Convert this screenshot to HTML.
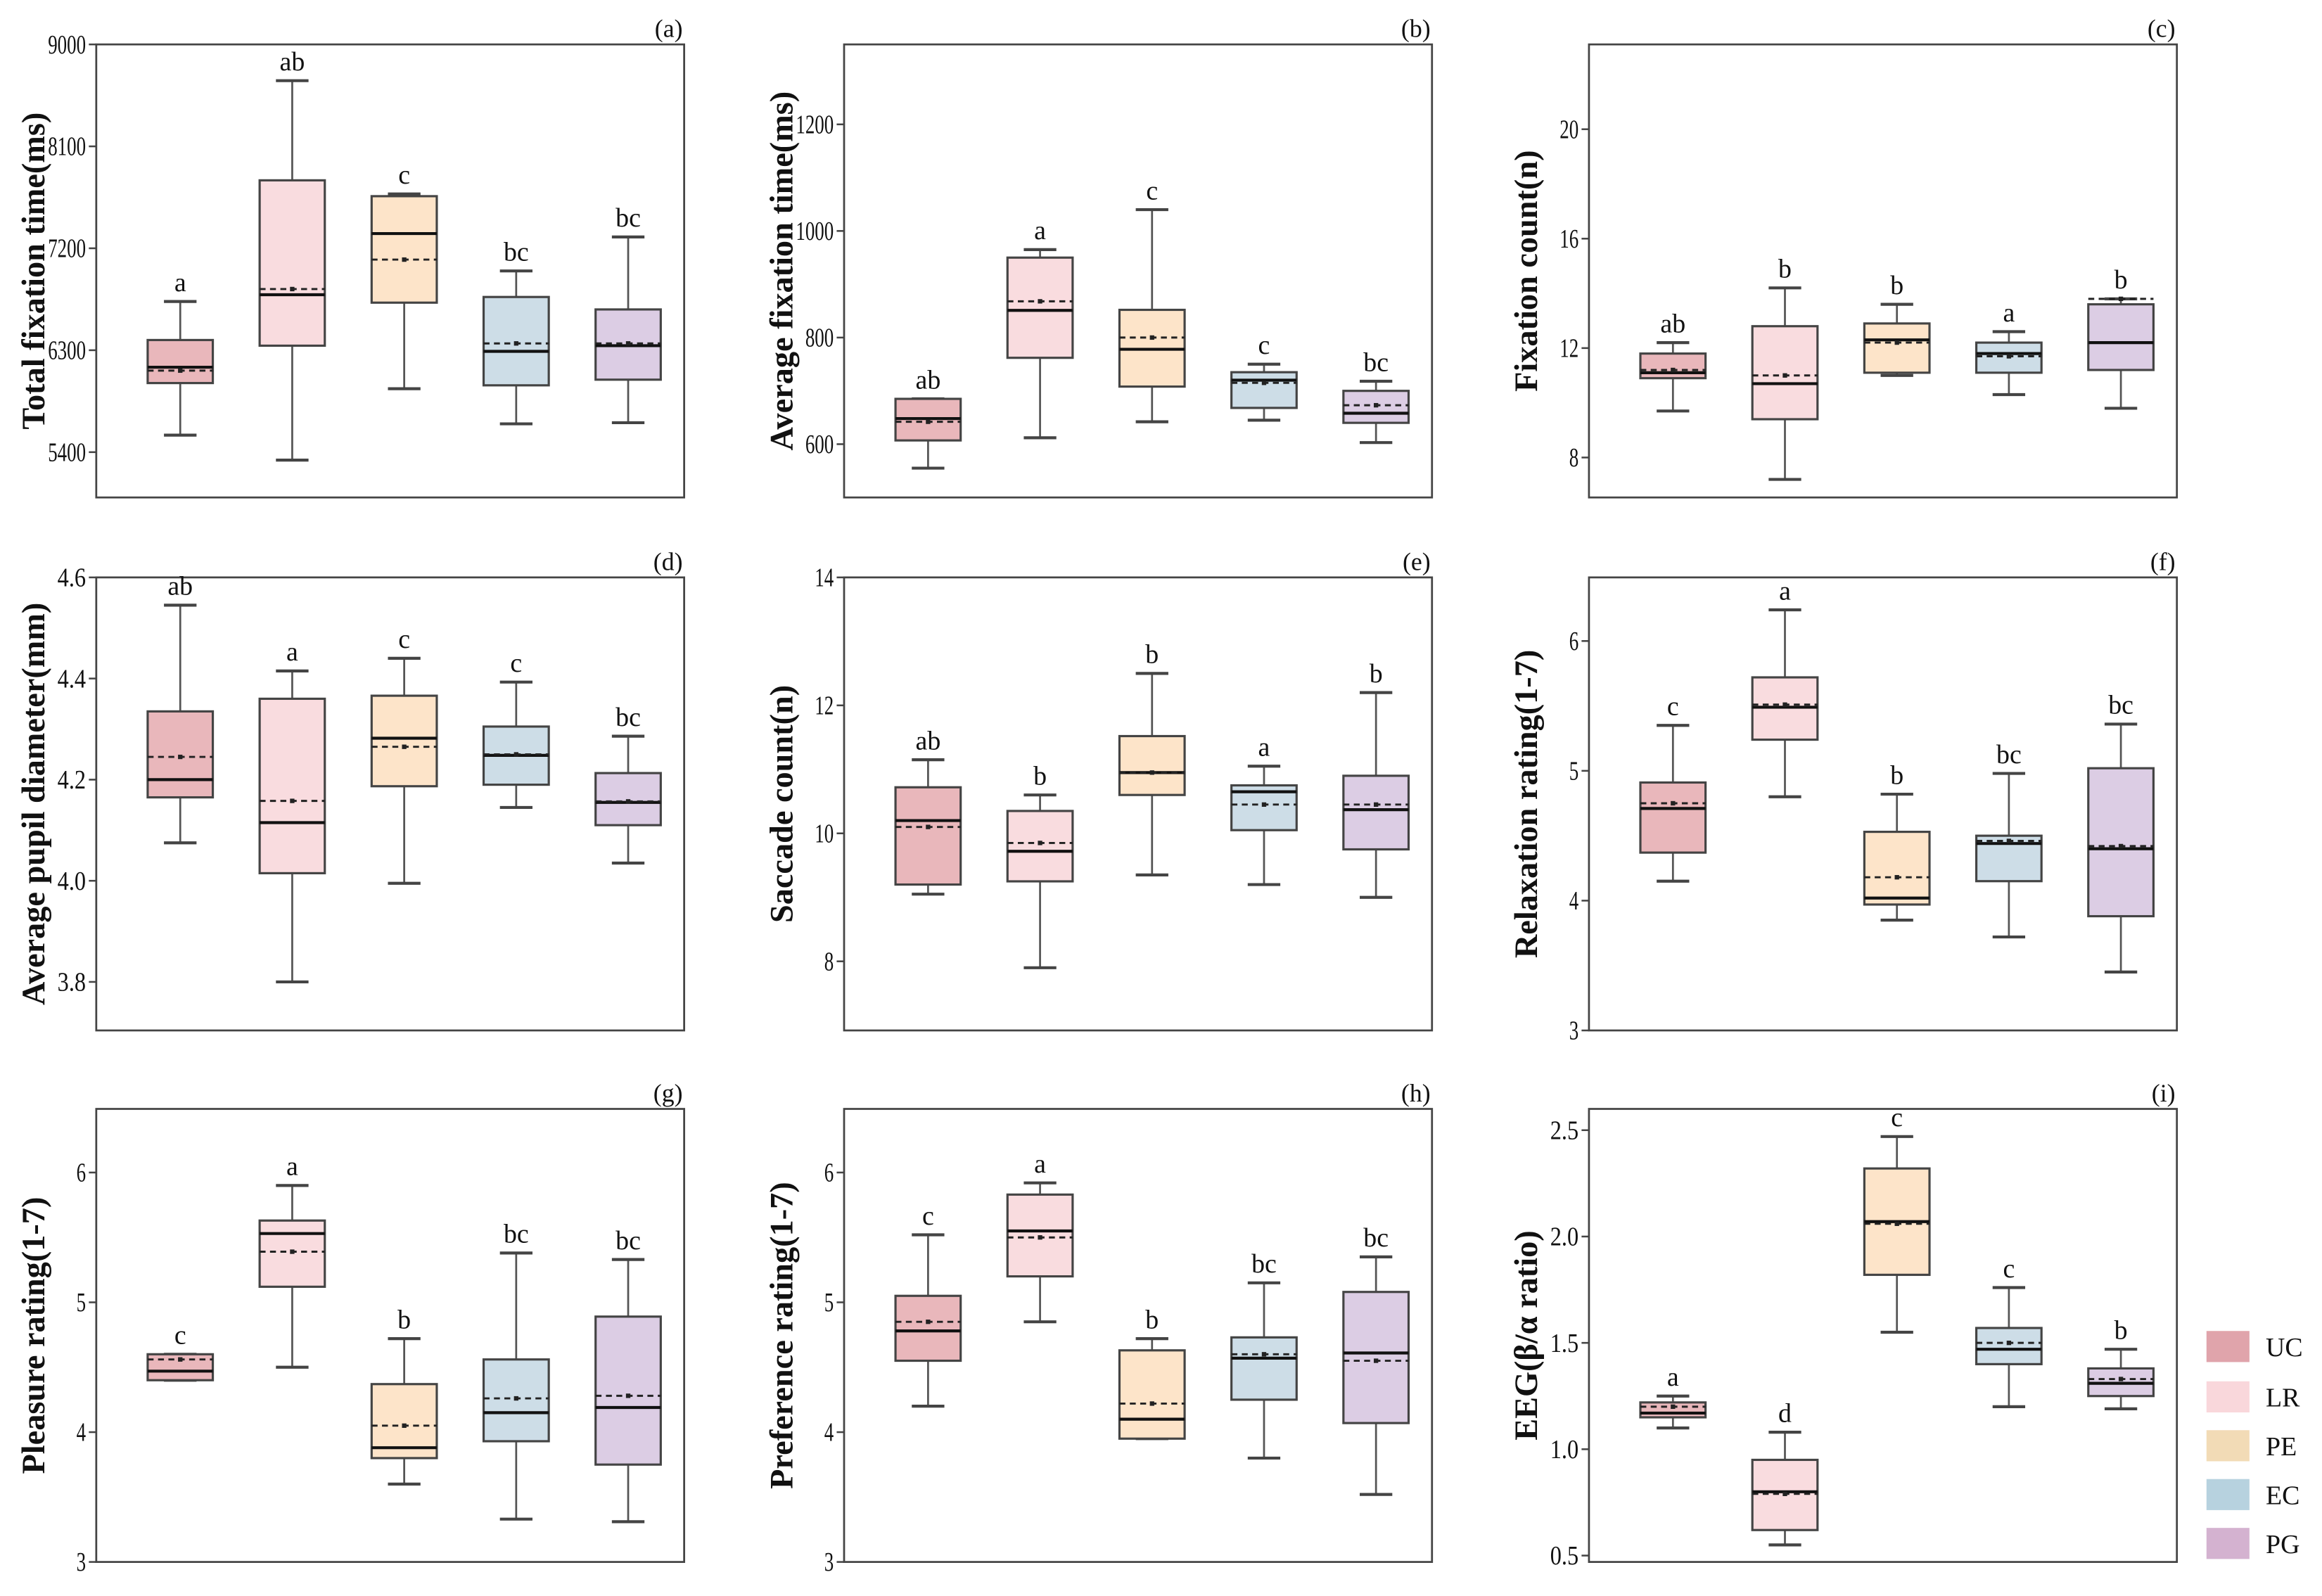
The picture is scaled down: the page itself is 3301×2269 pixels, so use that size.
<!DOCTYPE html>
<html><head><meta charset="utf-8">
<style>
html,body{margin:0;padding:0;background:#fff;}
svg{display:block;}
text{font-family:"Liberation Serif",serif;fill:#111;}
</style></head>
<body>
<svg id="fig" width="3301" height="2269" viewBox="0 0 1568 1078" preserveAspectRatio="none" xmlns="http://www.w3.org/2000/svg">
<rect x="0" y="0" width="1568" height="1078" fill="#fff"/>
</svg>
<script>
const groups = ["UC","LR","PE","EC","PG"];
const legendColors = ["#e0a4ab","#f9d7db","#f2dbb6","#b7d2df","#d4b2d0"];
const boxColors = ["#e9b7bb","#f9dcdf","#fde4c9","#cddde7","#dccde4"];

const aStats = [[5550,6010,6150,6390,6730],[5330,6340,6790,7800,8680],[5960,6720,7330,7660,7680],[5650,5990,6290,6770,7000],[5660,6040,6340,6660,7300]];
const aMeans = [6120,6840,7100,6360,6360];
const aLetters = ["a","ab","c","bc","bc"];
const aTicks = ["5400","6300","7200","8100","9000"];

const bStats = [[555,607,648,685,685],[612,762,851,950,965],[642,708,778,852,1040],[645,668,720,735,750],[603,640,658,700,718]];
const bMeans = [642,868,800,715,673];
const bLetters = ["ab","a","c","c","bc"];
const bTicks = ["600","800","1000","1200"];

const cStats = [[9.7,10.9,11.1,11.8,12.2],[7.2,9.4,10.7,12.8,14.2],[11.0,11.1,12.3,12.9,13.6],[10.3,11.1,11.8,12.2,12.6],[9.8,11.2,12.2,13.6,13.8]];
const cMeans = [11.2,11.0,12.2,11.7,13.8];
const cLetters = ["ab","b","b","a","b"];
const cTicks = ["8","12","16","20"];

const dStats = [[4.075,4.165,4.2,4.335,4.545],[3.8,4.015,4.115,4.36,4.415],[3.995,4.187,4.282,4.366,4.44],[4.145,4.19,4.248,4.305,4.393],[4.035,4.11,4.155,4.213,4.286]];
const dMeans = [4.245,4.158,4.265,4.25,4.157];
const dLetters = ["ab","a","c","c","bc"];
const dTicks = ["3.8","4.0","4.2","4.4","4.6"];

const eStats = [[9.05,9.2,10.2,10.72,11.15],[7.9,9.25,9.72,10.35,10.6],[9.35,10.6,10.95,11.52,12.5],[9.2,10.05,10.65,10.75,11.05],[9.0,9.75,10.37,10.9,12.2]];
const eMeans = [10.1,9.85,10.95,10.45,10.45];
const eLetters = ["ab","b","b","a","b"];
const eTicks = ["8","10","12","14"];

const fStats = [[4.15,4.37,4.71,4.91,5.35],[4.8,5.24,5.49,5.72,6.24],[3.85,3.97,4.02,4.53,4.82],[3.72,4.15,4.44,4.5,4.98],[3.45,3.88,4.4,5.02,5.36]];
const fMeans = [4.75,5.51,4.18,4.46,4.42];
const fLetters = ["c","a","b","bc","bc"];
const fTicks = ["3","4","5","6"];

const gStats = [[4.4,4.4,4.47,4.6,4.6],[4.5,5.12,5.53,5.63,5.9],[3.6,3.8,3.88,4.37,4.72],[3.33,3.93,4.15,4.56,5.38],[3.31,3.75,4.19,4.89,5.33]];
const gMeans = [4.56,5.39,4.05,4.26,4.28];
const gLetters = ["c","a","b","bc","bc"];
const gTicks = ["3","4","5","6"];

const hStats = [[4.2,4.55,4.78,5.05,5.52],[4.85,5.2,5.55,5.83,5.92],[3.95,3.95,4.1,4.63,4.72],[3.8,4.25,4.57,4.73,5.15],[3.52,4.07,4.61,5.08,5.35]];
const hMeans = [4.85,5.5,4.22,4.6,4.55];
const hLetters = ["c","a","b","bc","bc"];
const hTicks = ["3","4","5","6"];

const iStats = [[1.1,1.15,1.17,1.22,1.25],[0.55,0.62,0.8,0.95,1.08],[1.55,1.82,2.07,2.32,2.47],[1.2,1.4,1.47,1.57,1.76],[1.19,1.25,1.31,1.38,1.47]];
const iMeans = [1.2,0.79,2.06,1.5,1.33];
const iLetters = ["a","d","c","c","b"];
const iTicks = ["0.5","1.0","1.5","2.0","2.5"];

const panels = [
 {id:"a",title:"Total fixation time(ms)",stats:aStats,means:aMeans,letters:aLetters,ticks:aTicks,min:5000,max:9000,x0:65,y0:30},
 {id:"b",title:"Average fixation time(ms)",stats:bStats,means:bMeans,letters:bLetters,ticks:bTicks,min:500,max:1350,x0:570,y0:30},
 {id:"c",title:"Fixation count(n)",stats:cStats,means:cMeans,letters:cLetters,ticks:cTicks,min:6.54,max:23.1,x0:1073,y0:30},
 {id:"d",title:"Average pupil diameter(mm)",stats:dStats,means:dMeans,letters:dLetters,ticks:dTicks,min:3.704,max:4.6,x0:65,y0:390},
 {id:"e",title:"Saccade count(n)",stats:eStats,means:eMeans,letters:eLetters,ticks:eTicks,min:6.92,max:14,x0:570,y0:390},
 {id:"f",title:"Relaxation rating(1-7)",stats:fStats,means:fMeans,letters:fLetters,ticks:fTicks,min:3,max:6.49,x0:1073,y0:390},
 {id:"g",title:"Pleasure rating(1-7)",stats:gStats,means:gMeans,letters:gLetters,ticks:gTicks,min:3,max:6.49,x0:65,y0:749},
 {id:"h",title:"Preference rating(1-7)",stats:hStats,means:hMeans,letters:hLetters,ticks:hTicks,min:3,max:6.49,x0:570,y0:749},
 {id:"i",title:"EEG(β/α ratio)",stats:iStats,means:iMeans,letters:iLetters,ticks:iTicks,min:0.47,max:2.6,x0:1073,y0:749}
];
const W = 397, H = 306;
const svg = document.getElementById('fig');
const NS = "http://www.w3.org/2000/svg";
function mk(tag, attrs, parent){
  const e = document.createElementNS(NS, tag);
  for (const k in attrs) e.setAttribute(k, attrs[k]);
  (parent||svg).appendChild(e);
  return e;
}

panels.forEach(p => {
  const g = mk('g', {});
  
  
  const ys = v => p.y0 + H - (v - p.min) / (p.max - p.min) * H;
  const xs = i => p.x0 + (i + 0.75) * (W / 5.25);
  const bw = 44;
  const fr = mk('rect', {x:p.x0, y:p.y0, width:W, height:H, fill:'none', stroke:'#444', 'stroke-width':1.3}, g);
  
  
  const pl = mk('text', {x:p.x0+W-1, y:p.y0-5, 'text-anchor':'end', 'font-size':17}, g);
  pl.textContent = '(' + p.id + ')';
  
  
  p.ticks.forEach(t => {
    const y = ys(parseFloat(t));
    mk('line', {x1:p.x0-5, x2:p.x0, y1:y, y2:y, stroke:'#444', 'stroke-width':1.2}, g);
    const tl = mk('text', {x:p.x0-7, y:y+6, 'text-anchor':'end', 'font-size':18, textLength:(t.length*6.4).toFixed(1), lengthAdjust:'spacingAndGlyphs'}, g);
    tl.textContent = t;
    
    
  });
  const cy = p.y0 + H/2;
  const at = mk('text', {x:0, y:0, transform:`translate(${p.x0-35},${cy}) rotate(-90)`, 'text-anchor':'middle', 'font-size':22, 'font-weight':'bold'}, g);
  at.textContent = p.title;
  
  
  p.stats.forEach((s, i) => {
    const cx = xs(i);
    const bg = mk('g', {}, g);
    
    
    mk('line', {x1:cx, x2:cx, y1:ys(s[0]), y2:ys(s[4]), stroke:'#555', 'stroke-width':1.3}, bg);
    mk('line', {x1:cx-11, x2:cx+11, y1:ys(s[0]), y2:ys(s[0]), stroke:'#444', 'stroke-width':2}, bg);
    mk('line', {x1:cx-11, x2:cx+11, y1:ys(s[4]), y2:ys(s[4]), stroke:'#444', 'stroke-width':2}, bg);
    mk('rect', {x:cx-bw/2, y:ys(s[3]), width:bw, height:Math.max(1, ys(s[1])-ys(s[3])), fill:boxColors[i], stroke:'#444', 'stroke-width':1.5}, bg);
    mk('line', {x1:cx-bw/2, x2:cx+bw/2, y1:ys(s[2]), y2:ys(s[2]), stroke:'#111', 'stroke-width':2}, bg);
    mk('line', {x1:cx-bw/2, x2:cx+bw/2, y1:ys(p.means[i]), y2:ys(p.means[i]), stroke:'#222', 'stroke-width':1.4, 'stroke-dasharray':'4,3'}, bg);
    mk('rect', {x:cx-1.5, y:ys(p.means[i])-1.5, width:3, height:3, fill:'#222'}, bg);
    const lt = mk('text', {x:cx, y:ys(s[4])-7, 'text-anchor':'middle', 'font-size':18}, bg);
    lt.textContent = p.letters[i];
    
    
  });
});

const lg = mk('g', {});


const legendY = [899, 933, 966, 999, 1032];
groups.forEach((gname, i) => {
  const eg = mk('g', {}, lg);
  
  
  mk('rect', {x:1490, y:legendY[i], width:29, height:21, fill:legendColors[i]}, eg);
  const t = mk('text', {x:1530, y:legendY[i]+17, 'font-size':18}, eg);
  t.textContent = gname;
});
</script>
</body></html>
